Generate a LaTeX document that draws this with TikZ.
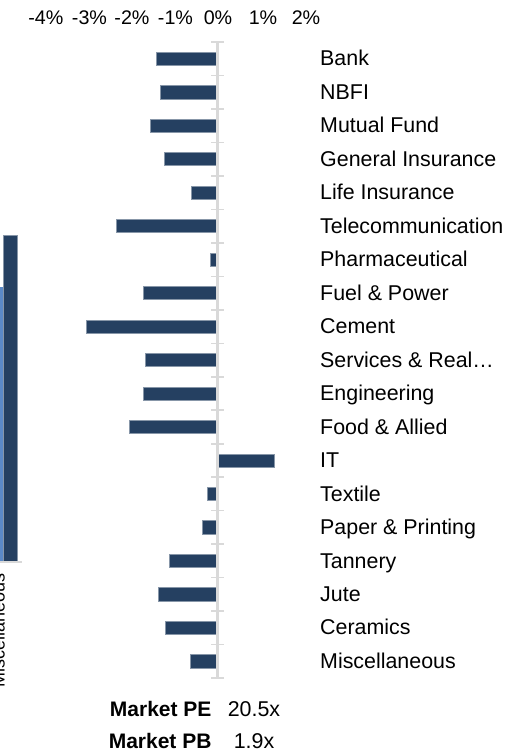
\documentclass[tikz,border=0pt]{standalone}
\usepackage{fontspec}
\setmainfont{Liberation Sans}
\definecolor{barra}{HTML}{254061}
\definecolor{barraclara}{HTML}{5B89C6}
\definecolor{eje}{HTML}{D9D9D9}
\def\escala{43.2}
\tikzset{
  texto/.style={font=\fontsize{21.4}{25}\selectfont,inner sep=0pt},
  negrita/.style={font=\fontsize{21}{25}\selectfont\bfseries,inner sep=0pt},
  pics/sector/.style args={#1,#2}{
     code={
        \def\alto{6.6}
        \def\paso{16.7}
        \draw[eje,line width=1.6pt] (-6,-\paso) -- (6.5,-\paso);
        \fill[barra,draw=barra!55!white,line width=0.5pt] (0,-\alto) rectangle (#1*\escala,\alto);
        \node[texto,anchor=base west] (-etiqueta) at (103,7.2) {#2};
     }
  }
}

\begin{document}
\begin{tikzpicture}[x=1pt,y=-1pt]
        \useasboundingbox (0,0) rectangle (520,749);
        \clip (0,0) rectangle (520,749);
        % eje superior
        \node[font=\fontsize{19.7}{23}\selectfont,anchor=base] (menoscuatro) at (45.8,25) {-4\%};
        \node[font=\fontsize{19.7}{23}\selectfont,anchor=base] (menostres) at (89.5,25) {-3\%};
        \node[font=\fontsize{19.7}{23}\selectfont,anchor=base] (menosdos) at (132,25) {-2\%};
        \node[font=\fontsize{19.7}{23}\selectfont,anchor=base] (menosuno) at (175.5,25) {-1\%};
        \node[font=\fontsize{19.7}{23}\selectfont,anchor=base] (cero) at (218,25) {0\%};
        \node[font=\fontsize{19.7}{23}\selectfont,anchor=base] (uno) at (263,25) {1\%};
        \node[font=\fontsize{19.7}{23}\selectfont,anchor=base] (dos) at (306,25) {2\%};
        % sectores
        \pic (bank) at (217,58.7) {sector={-1.41,Bank}};
        \pic (nbfi) at (217,92.2) {sector={-1.31,NBFI}};
        \pic (mutual) at (217,125.6) {sector={-1.55,Mutual Fund}};
        \pic (general) at (217,159.1) {sector={-1.21,General Insurance}};
        \pic (life) at (217,192.6) {sector={-0.60,Life Insurance}};
        \pic (telecom) at (217,226.1) {sector={-2.34,Telecommunication}};
        \pic (pharma) at (217,259.5) {sector={-0.15,Pharmaceutical}};
        \pic (fuel) at (217,293.0) {sector={-1.70,Fuel \& Power}};
        \pic (cement) at (217,326.5) {sector={-3.02,Cement}};
        \pic (services) at (217,360.0) {sector={-1.66,Services \& Real…}};
        \pic (engineering) at (217,393.4) {sector={-1.70,Engineering}};
        \pic (food) at (217,426.9) {sector={-2.04,Food \& Allied}};
        \pic (it) at (217,460.4) {sector={1.33,IT}};
        \pic (textile) at (217,493.8) {sector={-0.23,Textile}};
        \pic (paper) at (217,527.3) {sector={-0.34,Paper \& Printing}};
        \pic (tannery) at (217,560.8) {sector={-1.10,Tannery}};
        \pic (jute) at (217,594.2) {sector={-1.35,Jute}};
        \pic (ceramics) at (217,627.7) {sector={-1.20,Ceramics}};
        \pic (misc) at (217,661.2) {sector={-0.63,Miscellaneous}};
        \draw[eje,line width=1.6pt] (211,678) -- (223.5,678);
        \draw[eje,line width=2.6pt] (217.3,42) -- (217.3,678);
        % grafico cortado a la izquierda
        \fill[barraclara] (0,286.7) rectangle (3.3,561);
        \fill[barra,draw=barra!55!white,line width=0.5pt] (3.3,235) rectangle (17.3,561);
        \draw[eje,line width=2pt] (0,562) -- (22,562);
        \node[font=\fontsize{18}{21}\selectfont,rotate=90,anchor=base west,inner sep=0pt] (misclado) at (4.6,688) {Miscellaneous};
        % valoracion
        \node[negrita,anchor=base east] (pe) at (211.7,716.5) {Market PE};
        \node[texto,anchor=base] (pevalor) at (254,716.5) {20.5x};
        \node[negrita,anchor=base east] (pb) at (211.7,748) {Market PB};
        \node[texto,anchor=base] (pbvalor) at (254,748) {1.9x};
\end{tikzpicture}
\end{document}
